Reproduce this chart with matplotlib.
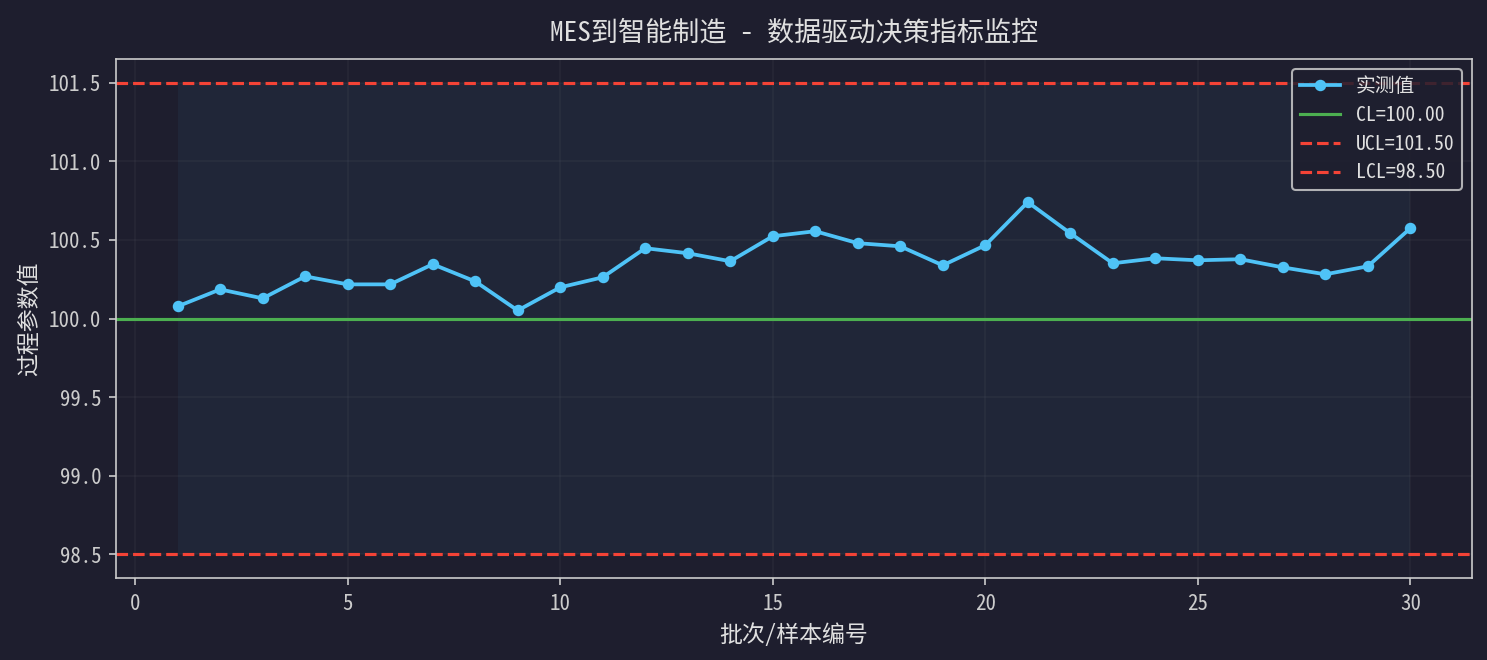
"""SPC 控制图 — MES到智能制造 指标监控. 产出: out.png"""

import matplotlib
matplotlib.use("Agg")
import matplotlib.pyplot as plt
import numpy as np

BG = "#1e1e2e"
FG = "#e0e0e0"
LINE = "#4fc3f7"
GREEN = "#4caf50"
RED = "#f44336"

# 数据
batch = list(range(1, 31))
values = [100.077, 100.185, 100.128, 100.268, 100.217, 100.217, 100.345, 100.236,
          100.051, 100.198, 100.262, 100.447, 100.415, 100.364, 100.523, 100.555,
          100.479, 100.459, 100.338, 100.466, 100.740, 100.542, 100.351, 100.383,
          100.370, 100.377, 100.325, 100.281, 100.332, 100.574]
CL, UCL, LCL = 100.00, 101.50, 98.50

plt.rcParams["font.family"] = ["Noto Sans Mono CJK SC", "DejaVu Sans Mono", "Noto Sans CJK SC"]
plt.rcParams["axes.unicode_minus"] = False

fig, ax = plt.subplots(figsize=(1487 / 150, 660 / 150), dpi=150)
fig.patch.set_facecolor(BG)
ax.set_facecolor(BG)
fig.subplots_adjust(left=116 / 1487, right=1472 / 1487, top=1 - 59 / 660, bottom=1 - 578 / 660)

ax.fill_between(batch, LCL, UCL, color=LINE, alpha=0.05, lw=0)
ax.plot(batch, values, color=LINE, lw=1.8, marker="o", ms=4.5, label="实测值", zorder=4)
ax.axhline(CL, color=GREEN, lw=1.5, label=f"CL={CL:.2f}")
ax.axhline(UCL, color=RED, lw=1.5, ls="--", label=f"UCL={UCL:.2f}")
ax.axhline(LCL, color=RED, lw=1.5, ls="--", label=f"LCL={LCL:.2f}")

ax.set_yticks([98.5, 99.0, 99.5, 100.0, 100.5, 101.0, 101.5])
ax.grid(True, color="#ffffff", alpha=0.04, lw=0.8)
ax.set_axisbelow(True)

ax.set_title("MES到智能制造 - 数据驱动决策指标监控", color=FG, fontsize=13, pad=9)
ax.set_xlabel("批次/样本编号", color=FG, fontsize=11)
ax.set_ylabel("过程参数值", color=FG, fontsize=11)
ax.tick_params(colors="#cccccc", labelsize=10)
for s in ax.spines.values():
    s.set_color("#cccccc")

leg = ax.legend(loc="upper right", fontsize=9.5, facecolor=BG, edgecolor="#cccccc",
                framealpha=0.85, labelcolor=FG)

fig.savefig("out.png", dpi=150, facecolor=BG)
